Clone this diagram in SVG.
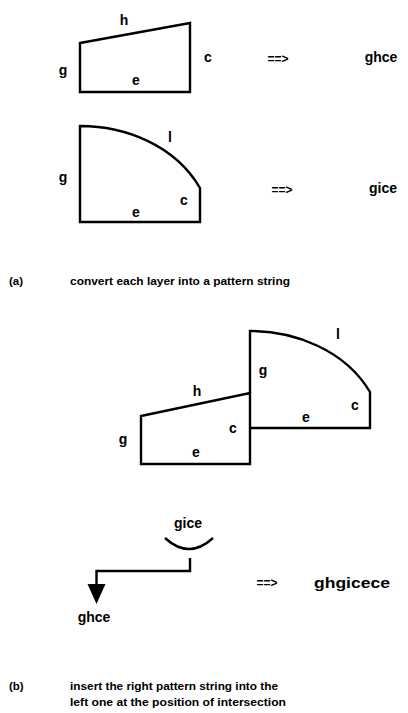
<svg xmlns="http://www.w3.org/2000/svg" width="408" height="713" viewBox="0 0 408 713">
<style>
.s{fill:none;stroke:#000;stroke-width:2.4;stroke-linejoin:miter}
.l{font-family:"Liberation Sans",Arial,sans-serif;font-weight:bold;font-size:14px;fill:#000;text-anchor:middle}
.r{font-family:"Liberation Sans",Arial,sans-serif;font-weight:bold;font-size:14px;fill:#000;text-anchor:middle}
.a{font-family:"Liberation Sans",Arial,sans-serif;font-weight:bold;font-size:12px;fill:#000;text-anchor:middle}
.c{font-family:"Liberation Sans",Arial,sans-serif;font-weight:bold;font-size:11.5px;fill:#000}
</style>
<rect width="408" height="713" fill="#fff"/>
<g id="layer-h">
<path class="s" d="M80,43 L190,23 L190,92 L80,92 Z"/>
<text class="l" x="124" y="25">h</text>
<text class="l" x="63" y="75">g</text>
<text class="l" x="208" y="62">c</text>
<text class="l" x="136" y="85">e</text>
</g>
<g id="result-a1">
<text class="a" x="278" y="63">==&gt;</text>
<text class="r" x="381" y="62">ghce</text>
</g>
<g id="layer-i">
<path class="s" d="M80,126 C125,126 175,145 200,188 L200,222 L80,222 Z"/>
<text class="l" x="170" y="142">l</text>
<text class="l" x="63" y="182">g</text>
<text class="l" x="184" y="205">c</text>
<text class="l" x="136" y="217">e</text>
</g>
<g id="result-a2">
<text class="a" x="282" y="194">==&gt;</text>
<text class="r" x="383" y="193">gice</text>
</g>
<g id="caption-a">
<text class="c" x="9" y="285">(a)</text>
<text class="c" x="70" y="285" textLength="220" lengthAdjust="spacingAndGlyphs">convert each layer into a pattern string</text>
</g>
<g id="left-layer">
<path class="s" d="M141,416 L250,393 L250,464 L141,464 Z"/>
<text class="l" x="197" y="396">h</text>
<text class="l" x="123" y="444">g</text>
<text class="l" x="233" y="433">c</text>
<text class="l" x="196" y="457">e</text>
</g>
<g id="right-layer">
<path class="s" d="M250,393 L250,331 C295,331 345,350 370,392 L370,428 L250,428"/>
<text class="l" x="338" y="339">l</text>
<text class="l" x="263" y="375">g</text>
<text class="l" x="355" y="410">c</text>
<text class="l" x="306" y="422">e</text>
</g>
<g id="insert-string">
<text class="r" x="188" y="528">gice</text>
</g>
<g id="connectors">
<path class="s" d="M165,538 Q189,560 213,538"/>
<path class="s" d="M190,558 L190,571 L96.5,571 L96.5,586"/>
<polygon points="87.5,584 105.5,584 96.5,604" fill="#000"/>
</g>
<g id="target-string">
<text class="r" x="94" y="622">ghce</text>
</g>
<g id="result-b">
<text class="a" x="267" y="587">==&gt;</text>
<text class="r" x="352" y="588" style="font-size:15px" textLength="76" lengthAdjust="spacingAndGlyphs">ghgicece</text>
</g>
<g id="caption-b">
<text class="c" x="9" y="690">(b)</text>
<text class="c" x="70" y="690" textLength="208" lengthAdjust="spacingAndGlyphs">insert the right pattern string into the</text>
<text class="c" x="70" y="706" textLength="216" lengthAdjust="spacingAndGlyphs">left one at the position of intersection</text>
</g>
</svg>
